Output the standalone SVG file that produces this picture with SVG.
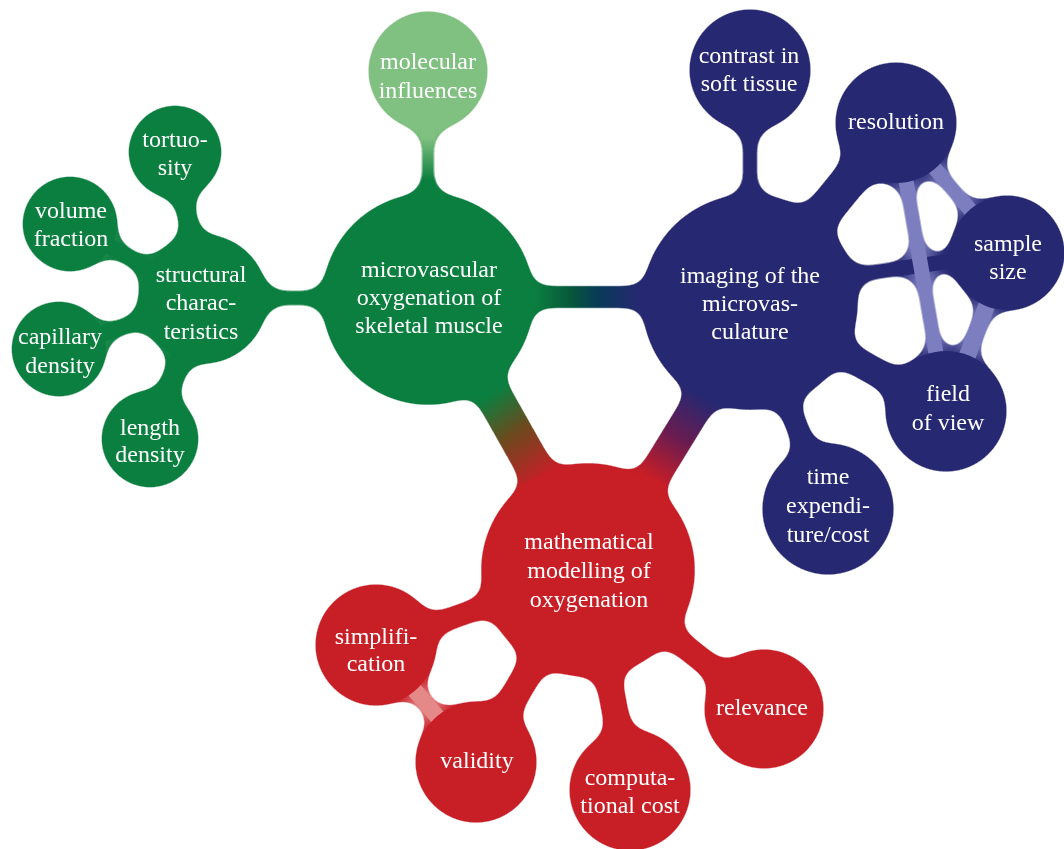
<svg xmlns="http://www.w3.org/2000/svg" width="1064" height="849" viewBox="0 0 1064 849">
  <defs>
    <!-- metaball merge: blur, sharpen alpha, keep original colours on top -->
    <filter id="goo" filterUnits="userSpaceOnUse" x="0" y="0" width="1064" height="849" color-interpolation-filters="sRGB">
      <feGaussianBlur in="SourceGraphic" stdDeviation="10" result="blur"/>
      <feColorMatrix in="blur" type="matrix" values="1 0 0 0 0  0 1 0 0 0  0 0 1 0 0  0 0 0 20 -8.5" result="goo"/>
      <feComposite in="SourceGraphic" in2="goo" operator="atop"/>
    </filter>
    <linearGradient id="gMol" gradientUnits="userSpaceOnUse" x1="428" y1="138" x2="428" y2="180">
      <stop offset="0" stop-color="#80c080"/>
      <stop offset="1" stop-color="#0b7f3f"/>
    </linearGradient>
    <linearGradient id="gGB" gradientUnits="userSpaceOnUse" x1="535" y1="0" x2="640" y2="0">
      <stop offset="0" stop-color="#0b7f3f"/>
      <stop offset="0.35" stop-color="#07563a"/>
      <stop offset="0.6" stop-color="#083a58"/>
      <stop offset="1" stop-color="#272872"/>
    </linearGradient>
    <linearGradient id="gGR" gradientUnits="userSpaceOnUse" x1="490" y1="395" x2="545" y2="478">
      <stop offset="0" stop-color="#0b7f3f"/>
      <stop offset="0.45" stop-color="#6b4a1e"/>
      <stop offset="1" stop-color="#c81e26"/>
    </linearGradient>
    <linearGradient id="gBR" gradientUnits="userSpaceOnUse" x1="700" y1="395" x2="650" y2="478">
      <stop offset="0" stop-color="#272872"/>
      <stop offset="0.5" stop-color="#6a1c50"/>
      <stop offset="1" stop-color="#c81e26"/>
    </linearGradient>
  </defs>
  <style>
    .g { fill: #0b7f3f; }
    .lg { fill: #80c080; }
    .b { fill: #272872; }
    .r { fill: #c81e26; }
    #connectors line { stroke-linecap: round; fill: none; }
    .cg { stroke: #0b7f3f; }
    .cb { stroke: #272872; }
    .cr { stroke: #c81e26; }
    .clb { stroke: #7c7ec0; }
    .clr { stroke: #e48888; }
    text { font-family: "Liberation Serif", "Times New Roman", serif; font-size: 24px; fill: #ffffff; text-anchor: middle; }
  </style>

  <g id="map" filter="url(#goo)">
    <g id="connectors">
      <!-- between the three main topics -->
      <line x1="428" y1="297" x2="750" y2="297" stroke="url(#gGB)" stroke-width="20"/>
      <line x1="478" y1="368" x2="548" y2="492" stroke="url(#gGR)" stroke-width="34"/>
      <line x1="714" y1="378" x2="644" y2="492" stroke="url(#gBR)" stroke-width="30"/>
      <!-- green branch -->
      <line x1="428" y1="120" x2="428" y2="210" stroke="url(#gMol)" stroke-width="14"/>
      <line class="cg" x1="203" y1="298" x2="428" y2="298" stroke-width="15"/>
      <line class="cg" x1="203" y1="299" x2="175" y2="152" stroke-width="18"/>
      <line class="cg" x1="203" y1="299" x2="70" y2="224" stroke-width="16"/>
      <line class="cg" x1="203" y1="299" x2="59" y2="349" stroke-width="16"/>
      <line class="cg" x1="203" y1="299" x2="150" y2="439" stroke-width="20"/>
      <!-- blue branch -->
      <line class="cb" x1="750" y1="302" x2="750" y2="70" stroke-width="15"/>
      <line class="cb" x1="750" y1="302" x2="896" y2="123" stroke-width="34"/>
      <line class="cb" x1="750" y1="290" x2="1007" y2="253" stroke-width="15"/>
      <line class="cb" x1="750" y1="302" x2="946" y2="411" stroke-width="26"/>
      <line class="cb" x1="750" y1="302" x2="828" y2="509" stroke-width="20"/>
      <line class="clb" x1="896" y1="123" x2="1007" y2="253" stroke-width="15"/>
      <line class="clb" x1="896" y1="123" x2="946" y2="411" stroke-width="15"/>
      <line class="clb" x1="1007" y1="253" x2="946" y2="411" stroke-width="17"/>
      <!-- red branch -->
      <line class="cr" x1="588" y1="570" x2="376" y2="645" stroke-width="20"/>
      <line class="cr" x1="588" y1="570" x2="476" y2="762" stroke-width="26"/>
      <line class="cr" x1="588" y1="570" x2="630" y2="790" stroke-width="24"/>
      <line class="cr" x1="588" y1="570" x2="764" y2="709" stroke-width="22"/>
      <line class="clr" x1="376" y1="645" x2="476" y2="762" stroke-width="16"/>
    </g>

    <!-- green: structure of the vessels -->
    <g id="node-microvascular-oxygenation">
      <circle class="g" cx="428" cy="299" r="105"/>
      <text x="429" y="277">microvascular</text>
      <text x="429" y="305">oxygenation of</text>
      <text x="429" y="333">skeletal muscle</text>
    </g>
    <g id="node-molecular-influences">
      <circle class="lg" cx="428" cy="71" r="59"/>
      <text x="428" y="69">molecular</text>
      <text x="428" y="98">influences</text>
    </g>
    <g id="node-structural-characteristics">
      <circle class="g" cx="203" cy="299" r="64"/>
      <text x="201" y="282">structural</text>
      <text x="201" y="310">charac-</text>
      <text x="201" y="339">teristics</text>
    </g>
    <g id="node-tortuosity">
      <circle class="g" cx="175" cy="152" r="46"/>
      <text x="175" y="147">tortuo-</text>
      <text x="175" y="175">sity</text>
    </g>
    <g id="node-volume-fraction">
      <circle class="g" cx="70" cy="224" r="47"/>
      <text x="71" y="218">volume</text>
      <text x="71" y="246">fraction</text>
    </g>
    <g id="node-capillary-density">
      <circle class="g" cx="59" cy="349" r="47"/>
      <text x="60" y="344">capillary</text>
      <text x="60" y="373">density</text>
    </g>
    <g id="node-length-density">
      <circle class="g" cx="150" cy="439" r="48"/>
      <text x="150" y="435">length</text>
      <text x="150" y="462">density</text>
    </g>

    <!-- blue: imaging -->
    <g id="node-imaging">
      <circle class="b" cx="750" cy="302" r="107"/>
      <text x="750" y="283">imaging of the</text>
      <text x="750" y="311">microvas-</text>
      <text x="750" y="339">culature</text>
    </g>
    <g id="node-contrast">
      <circle class="b" cx="750" cy="70" r="60"/>
      <text x="749" y="63">contrast in</text>
      <text x="749" y="91">soft tissue</text>
    </g>
    <g id="node-resolution">
      <circle class="b" cx="896" cy="123" r="60"/>
      <text x="896" y="129">resolution</text>
    </g>
    <g id="node-sample-size">
      <circle class="b" cx="1007" cy="253" r="57"/>
      <text x="1008" y="251">sample</text>
      <text x="1008" y="279">size</text>
    </g>
    <g id="node-field-of-view">
      <circle class="b" cx="946" cy="411" r="60"/>
      <text x="948" y="401">field</text>
      <text x="948" y="430">of view</text>
    </g>
    <g id="node-time-cost">
      <circle class="b" cx="828" cy="509" r="65"/>
      <text x="828" y="484">time</text>
      <text x="828" y="513">expendi-</text>
      <text x="828" y="542">ture/cost</text>
    </g>

    <!-- red: modelling -->
    <g id="node-modelling">
      <circle class="r" cx="588" cy="570" r="106"/>
      <text x="589" y="549">mathematical</text>
      <text x="589" y="578">modelling of</text>
      <text x="589" y="607">oxygenation</text>
    </g>
    <g id="node-simplification">
      <circle class="r" cx="376" cy="645" r="60"/>
      <text x="376" y="644">simplifi-</text>
      <text x="376" y="671">cation</text>
    </g>
    <g id="node-validity">
      <circle class="r" cx="476" cy="762" r="60"/>
      <text x="477" y="768">validity</text>
    </g>
    <g id="node-computational-cost">
      <circle class="r" cx="630" cy="790" r="60"/>
      <text x="630" y="785">computa-</text>
      <text x="630" y="813">tional cost</text>
    </g>
    <g id="node-relevance">
      <circle class="r" cx="764" cy="709" r="59"/>
      <text x="762" y="715">relevance</text>
    </g>
  </g>
</svg>
